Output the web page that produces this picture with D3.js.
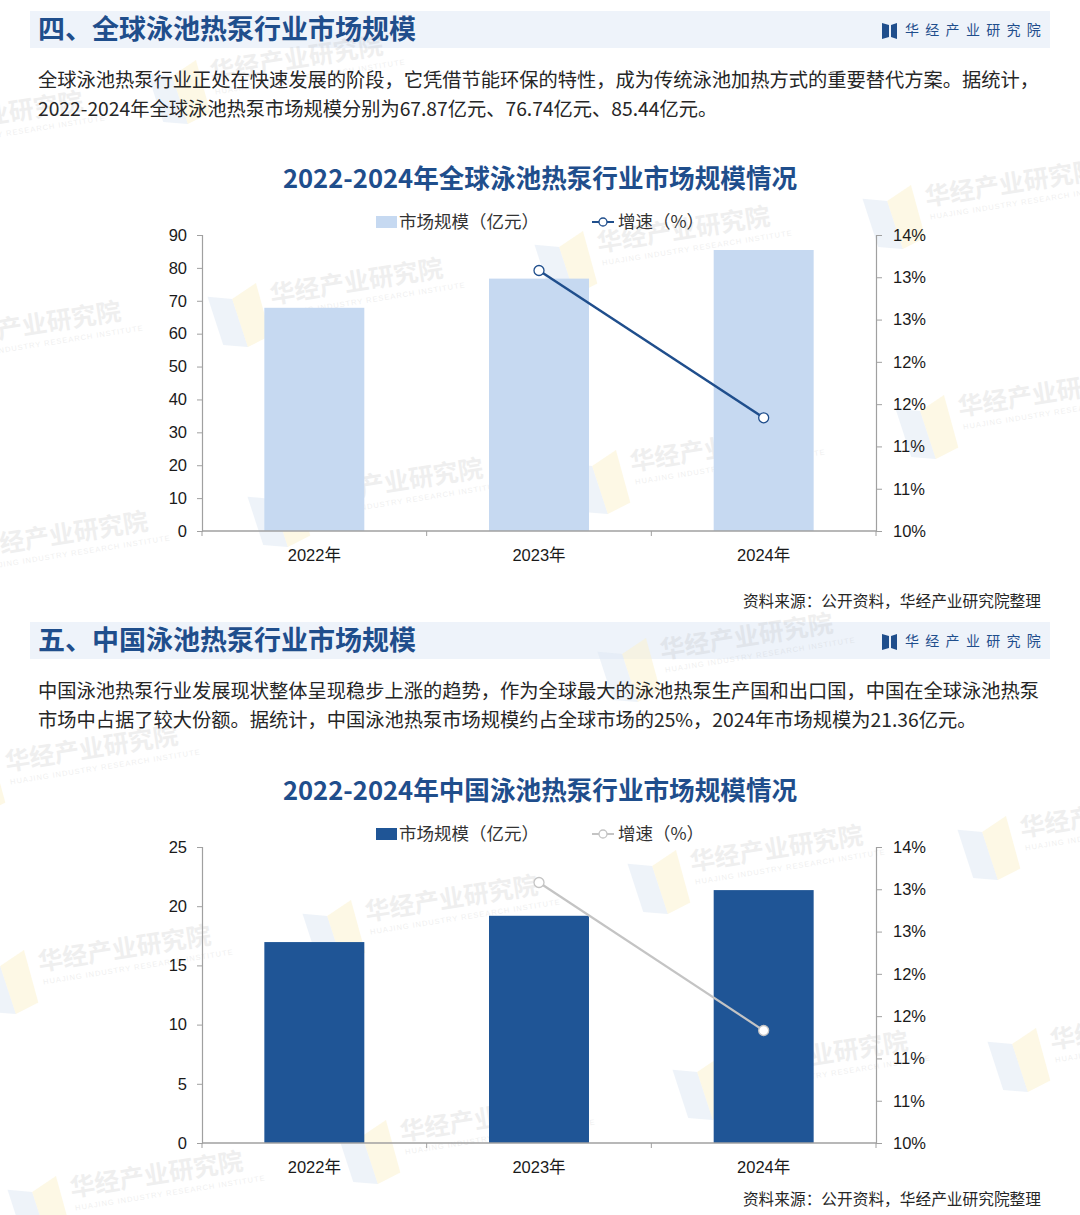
<!DOCTYPE html>
<html>
<head>
<meta charset="utf-8">
<script src="https://cdn.jsdelivr.net/npm/d3@7"></script>
<style>
  html, body { margin: 0; padding: 0; background: #fff; }
  svg { display: block; }
</style>
</head>
<body>
<div id="root"></div>
<script>
// 数据
const years = ["2022年", "2023年", "2024年"];
const globalSize = [67.87, 76.74, 85.44];      // 全球市场规模（亿元）
const chinaSize = [16.97, 19.19, 21.36];       // 中国市场规模（亿元）
const growthYears = ["2023年", "2024年"];
const globalGrowth = [13.52, 11.53];           // 增速（%）
const chinaGrowth = [13.52, 11.52];
const globalTicks = [0, 10, 20, 30, 40, 50, 60, 70, 80, 90];
const chinaTicks = [0, 5, 10, 15, 20, 25];
const rateTicks = [10, 10.571, 11.143, 11.714, 12.286, 12.857, 13.429, 14];

const W = 1080, H = 1215;
const CJK = "'Noto Sans CJK SC', 'Noto Sans', sans-serif";
const ARIAL = "'Liberation Sans', Arial, sans-serif";
const BLUE = "#1f4e8c";

const svg = d3.select("#root").append("svg")
    .attr("width", W).attr("height", H)
    .attr("xmlns", "http://www.w3.org/2000/svg");

// 图层：背景 / 水印 / 内容
const bgLayer = svg.append("g");
const wmLayer = svg.append("g").attr("pointer-events", "none");
const main = svg.append("g");

// 段落标题栏
function header(y, title) {
    bgLayer.append("rect").attr("x", 30).attr("y", y).attr("width", 1020).attr("height", 37)
        .attr("fill", "#eef3fa");
    const g = main.append("g");
    g.append("text").attr("x", 38).attr("y", y + 28)
        .attr("font-family", CJK).attr("font-size", 27).attr("font-weight", 700)
        .attr("fill", BLUE).text(title);
    // 小图标
    g.append("path").attr("d", `M882 ${y + 12} L889 ${y + 14} L889 ${y + 26} L882 ${y + 28} Z`).attr("fill", BLUE);
    g.append("path").attr("d", `M891 ${y + 14} L897 ${y + 12} L897 ${y + 28} L891 ${y + 26} Z`).attr("fill", BLUE);
    g.append("text").attr("x", 905).attr("y", y + 24)
        .attr("font-family", CJK).attr("font-size", 14).attr("letter-spacing", 6.3)
        .attr("fill", BLUE).text("华经产业研究院");
}

function paragraph(y, lines) {
    lines.forEach((t, i) => {
        main.append("text").attr("x", 38).attr("y", y + i * 29)
            .attr("font-family", CJK).attr("font-size", 19.25).attr("fill", "#262626")
            .text(t);
    });
}

function source(y) {
    main.append("text").attr("x", 1041).attr("y", y).attr("text-anchor", "end")
        .attr("font-family", CJK).attr("font-size", 15.7).attr("fill", "#262626")
        .text("资料来源：公开资料，华经产业研究院整理");
}

// 柱线组合图
function drawChart(o) {
    const top = o.top, bottom = o.top + 296;
    const left = 202, right = 876;
    const g = main.append("g");

    const x = d3.scaleBand().domain(years).range([left, right]).padding(0);
    const y = d3.scaleLinear().domain([0, d3.max(o.ticks)]).range([bottom, top]);
    const y2 = d3.scaleLinear().domain([10, 14]).range([bottom, top]);
    const bw = x.bandwidth() * 0.445;

    g.append("text").attr("x", 540).attr("y", top - 47).attr("text-anchor", "middle")
        .attr("font-family", CJK).attr("font-size", 25.6).attr("font-weight", 700)
        .attr("fill", BLUE).text(o.title);

    // 图例
    const lg = g.append("g").attr("transform", `translate(0, ${top - 13})`);
    lg.append("rect").attr("x", 376).attr("y", -6).attr("width", 21).attr("height", 12).attr("fill", o.barColor);
    lg.append("text").attr("x", 399).attr("y", 6).attr("font-family", CJK).attr("font-size", 17.5)
        .attr("fill", "#333").text("市场规模（亿元）");
    lg.append("line").attr("x1", 592).attr("x2", 614).attr("y1", 0).attr("y2", 0)
        .attr("stroke", o.lineColor).attr("stroke-width", 2);
    lg.append("circle").attr("cx", 603).attr("cy", 0).attr("r", 4)
        .attr("fill", "#fff").attr("stroke", o.lineColor).attr("stroke-width", 1.3);
    lg.append("text").attr("x", 618).attr("y", 6).attr("font-family", CJK).attr("font-size", 17.5)
        .attr("fill", "#333").text("增速（%）");

    // 柱子
    g.selectAll(".bar").data(o.values).join("rect")
        .attr("x", (d, i) => x(years[i]) + (x.bandwidth() - bw) / 2)
        .attr("y", d => y(d))
        .attr("width", bw)
        .attr("height", d => bottom - y(d))
        .attr("fill", o.barColor);

    // 坐标轴
    const axisColor = "#a0a0a0";
    const ya = g.append("g").attr("transform", `translate(${left},0)`)
        .call(d3.axisLeft(y).tickValues(o.ticks).tickSize(5).tickPadding(10));
    const yb = g.append("g").attr("transform", `translate(${right},0)`)
        .call(d3.axisRight(y2).tickValues(rateTicks).tickSize(6).tickPadding(11)
            .tickFormat(d => Math.round(d) + "%"));
    [ya, yb].forEach(a => {
        a.select(".domain").attr("stroke", axisColor).attr("stroke-width", 1.2);
        a.selectAll(".tick line").attr("stroke", axisColor);
        a.selectAll(".tick text").attr("font-family", ARIAL).attr("font-size", 16.5).attr("fill", "#1a1a1a");
    });
    g.append("line").attr("x1", left).attr("x2", right).attr("y1", bottom).attr("y2", bottom)
        .attr("stroke", axisColor).attr("stroke-width", 1.5);
    const edges = years.map(d => x(d)).concat([right]);
    g.selectAll(".xt").data(edges).join("line")
        .attr("x1", d => d).attr("x2", d => d).attr("y1", bottom).attr("y2", bottom + 5)
        .attr("stroke", axisColor);
    g.selectAll(".xl").data(years).join("text")
        .attr("x", d => x(d) + x.bandwidth() / 2).attr("y", bottom + 30)
        .attr("text-anchor", "middle").attr("font-family", ARIAL).attr("font-size", 16.5)
        .attr("fill", "#1a1a1a").text(d => d.replace("年", ""))
        .append("tspan").attr("font-family", CJK).text("年");

    // 折线
    const line = d3.line()
        .x((d, i) => x(growthYears[i]) + x.bandwidth() / 2)
        .y(d => y2(d));
    g.append("path").datum(o.growth).attr("d", line).attr("fill", "none")
        .attr("stroke", o.lineColor).attr("stroke-width", o.lineWidth);
    g.selectAll(".pt").data(o.growth).join("circle")
        .attr("cx", (d, i) => x(growthYears[i]) + x.bandwidth() / 2)
        .attr("cy", d => y2(d)).attr("r", 5)
        .attr("fill", "#fff").attr("stroke", o.lineColor).attr("stroke-width", 1.3);
}

header(11, "四、全球泳池热泵行业市场规模");
paragraph(87, [
    "全球泳池热泵行业正处在快速发展的阶段，它凭借节能环保的特性，成为传统泳池加热方式的重要替代方案。据统计，",
    "2022-2024年全球泳池热泵市场规模分别为67.87亿元、76.74亿元、85.44亿元。"
]);
drawChart({
    top: 235, title: "2022-2024年全球泳池热泵行业市场规模情况",
    values: globalSize, growth: globalGrowth, ticks: globalTicks,
    barColor: "#c6d9f1", lineColor: "#1f4e8c", lineWidth: 2.5
});
source(607);

header(622, "五、中国泳池热泵行业市场规模");
paragraph(698, [
    "中国泳池热泵行业发展现状整体呈现稳步上涨的趋势，作为全球最大的泳池热泵生产国和出口国，中国在全球泳池热泵",
    "市场中占据了较大份额。据统计，中国泳池热泵市场规模约占全球市场的25%，2024年市场规模为21.36亿元。"
]);
drawChart({
    top: 847, title: "2022-2024年中国泳池热泵行业市场规模情况",
    values: chinaSize, growth: chinaGrowth, ticks: chinaTicks,
    barColor: "#1f5596", lineColor: "#c4c4c4", lineWidth: 2.2
});
source(1205);

// 水印（位于内容之下）
const marks = [
    [210, 72], [-90, 128], [270, 295], [-52, 338], [310, 495], [-25, 548],
    [597, 243], [925, 197], [958, 407], [630, 462],
    [660, 650], [5, 762], [690, 862], [365, 912], [38, 962], [1020, 828],
    [735, 1068], [1050, 1040], [400, 1132], [70, 1188]
];
marks.forEach(([mx, my]) => {
    const m = wmLayer.append("g").attr("transform", `translate(${mx},${my}) rotate(-9)`);
    m.append("path").attr("d", "M-62 -8 L-38 -2 L-30 48 L-54 42 Z").attr("fill", "#dde7f4").attr("opacity", 0.5);
    m.append("path").attr("d", "M-38 -2 L-12 -14 L-6 40 L-30 48 Z").attr("fill", "#fcf1cc").attr("opacity", 0.5);
    m.append("text").attr("x", 0).attr("y", 9).attr("font-family", CJK).attr("font-size", 25)
        .attr("font-weight", 700).attr("fill", "#9a9a9a").attr("opacity", 0.15).text("华经产业研究院");
    m.append("text").attr("x", 2).attr("y", 23).attr("font-family", ARIAL).attr("font-size", 7.5)
        .attr("letter-spacing", 1).attr("fill", "#9a9a9a").attr("opacity", 0.15)
        .text("HUAJING INDUSTRY RESEARCH INSTITUTE");
});
</script>
</body>
</html>
